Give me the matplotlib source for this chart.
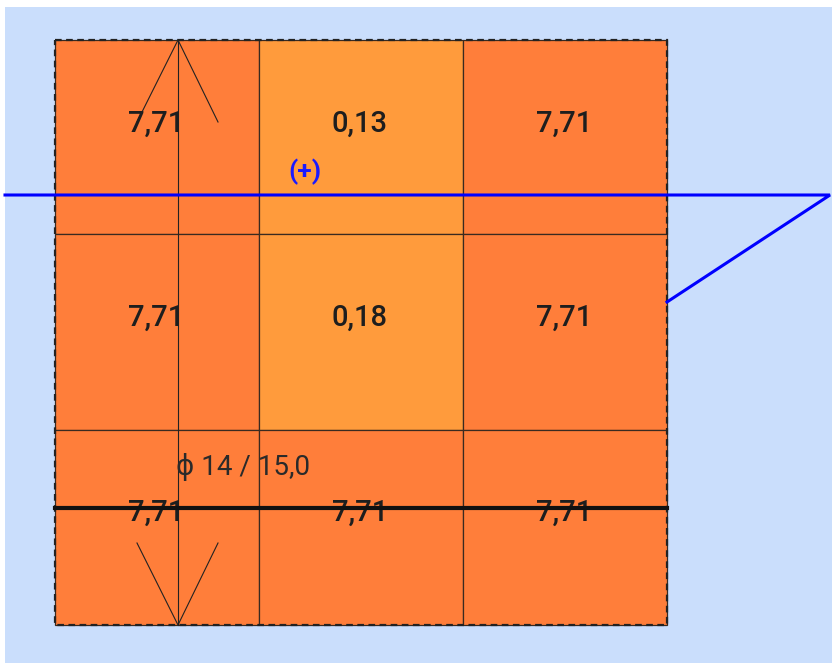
import matplotlib.pyplot as plt
from matplotlib.patches import Rectangle

# cell values (rows top->bottom, cols left->right)
values = [[7.71, 0.13, 7.71],
          [7.71, 0.18, 7.71],
          [7.71, 7.71, 7.71]]
col_edges = [55, 259, 463, 667]
row_edges = [40, 234, 430, 625]
rebar_label = "ϕ 14 / 15,0"
sign_label = "(+)"

BG = '#cadefc'
DARK_OR = '#ff7e3a'
LIGHT_OR = '#ff9b3c'

fig = plt.figure(figsize=(8.33, 6.63), dpi=100)
fig.patch.set_facecolor('white')
ax = fig.add_axes([0, 0, 1, 1])
ax.set_xlim(0, 833)
ax.set_ylim(663, 0)
ax.axis('off')

ax.add_patch(Rectangle((5, 7), 827, 660, facecolor=BG, edgecolor='none', zorder=0))

font = ['Roboto', 'DejaVu Sans']

for i, row in enumerate(values):
    for j, v in enumerate(row):
        x0, x1 = col_edges[j], col_edges[j + 1]
        y0, y1 = row_edges[i], row_edges[i + 1]
        c = LIGHT_OR if v < 1 else DARK_OR
        ax.add_patch(Rectangle((x0, y0), x1 - x0, y1 - y0, facecolor=c,
                               edgecolor='#3a2a20', linewidth=0.9, zorder=1))
        ty = y0 + (y1 - y0) * 0.43 if i < 2 else 513
        ax.text((x0 + x1) / 2 - 1, ty, f"{v:.2f}".replace('.', ','),
                ha='center', va='center', fontsize=21, color='#1e1e1e',
                family=font, fontweight='medium', zorder=4)

# dashed outline
ax.add_patch(Rectangle((col_edges[0], row_edges[0]), col_edges[-1] - col_edges[0],
                       row_edges[-1] - row_edges[0], facecolor='none',
                       edgecolor='#222222', linewidth=1.6, linestyle=(0, (3, 2)), zorder=3))

# rebar direction arrow
ax.plot([178, 178], [row_edges[0], row_edges[-1]], color='#222222', lw=0.8, zorder=3)
ax.plot([137, 178, 218], [122, row_edges[0], 122], color='#222222', lw=0.8, zorder=3)
ax.plot([137, 178, 218], [543, row_edges[-1], 543], color='#222222', lw=0.8, zorder=3)

# rebar line + label
ax.plot([col_edges[0], col_edges[-1]], [508, 508], color='#111111', lw=3, zorder=5)
ax.text(176, 467, rebar_label, ha='left', va='center', fontsize=20,
        color='#2a2a2a', family=font, zorder=4)

# blue moment diagram
ax.plot([5, 830, col_edges[-1]], [195, 195, 302], color='#0000ff', lw=2.2,
        solid_joinstyle='miter', zorder=6)
ax.text(305, 172, sign_label, ha='center', va='center', fontsize=19,
        color='#1a1aff', fontweight='bold', family=font, zorder=6)

fig.savefig('out.png', dpi=100, facecolor=fig.get_facecolor())
